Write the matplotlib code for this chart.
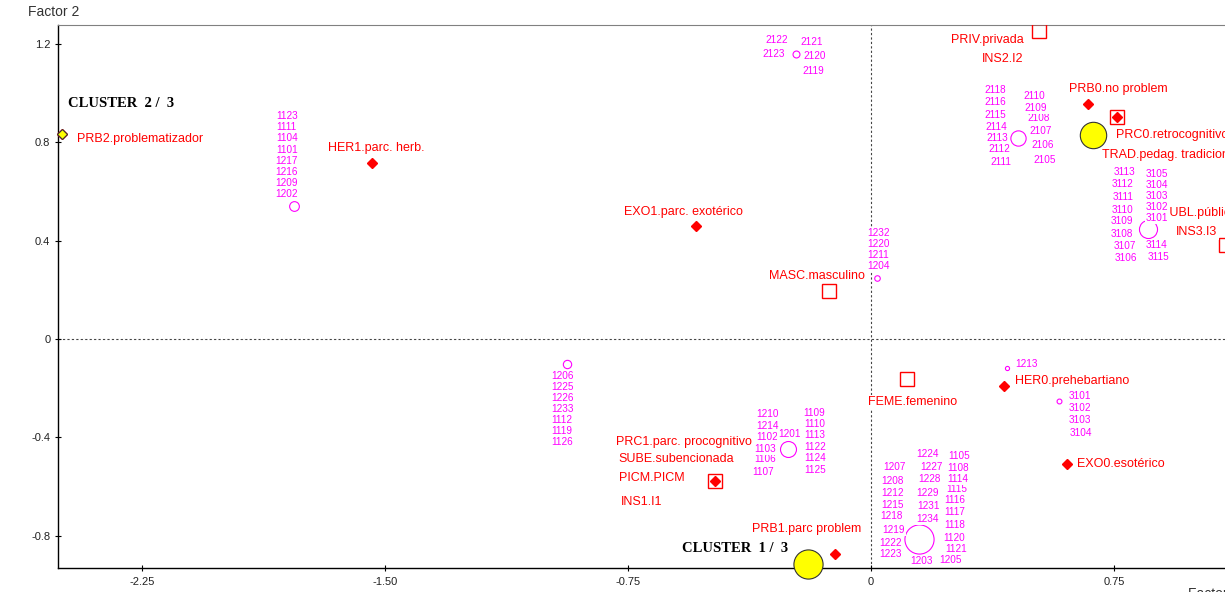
import matplotlib.pyplot as plt

plt.rcParams["font.family"] = ["Liberation Sans", "DejaVu Sans"]
plt.rcParams["axes.unicode_minus"] = False

RED = "#ff0000"
MAG = "#ff00ff"

# active modalities (red diamonds)
act_names = ["PRB2.problematizador", "HER1.parc. herb.", "EXO1.parc. exotérico",
             "HER0.prehebartiano", "EXO0.esotérico", "PRB1.parc problem",
             "PRB0.no problem", "PRC0.retrocognitivo", "PRC1.parc. procognitivo"]
act_x = [-2.497, -1.540, -0.540, 0.410, 0.605, -0.111, 0.670, 0.759, -0.481]
act_y = [0.834, 0.716, 0.460, -0.191, -0.509, -0.875, 0.956, 0.903, -0.578]

# illustrative modalities (open squares), one square can carry several names
sup_names = [["MASC.masculino"], ["FEME.femenino"],
             ["SUBE.subencionada", "PICM.PICM", "INS1.I1"],
             ["TRAD.pedag. tradicional"], ["PRIV.privada", "INS2.I2"],
             ["PUBL.pública", "INS3.I3"]]
sup_x = [-0.131, 0.111, -0.481, 0.759, 0.519, 1.096]
sup_y = [0.197, -0.163, -0.578, 0.903, 1.253, 0.382]

# cluster centres (yellow)
clu_names = ["CLUSTER  1 /  3", "CLUSTER  2 /  3", ""]
clu_x = [-0.194, -2.497, 0.685]
clu_y = [-0.915, 0.834, 0.830]

# individuals (magenta circles), grouped by position
ind_x = [-1.781, -0.231, 0.454, 0.855, 0.019, -0.938, -0.256, 0.420, 0.580, 0.148]
ind_y = [0.541, 1.159, 0.818, 0.448, 0.248, -0.102, -0.448, -0.118, -0.252, -0.814]
ind_labels = [
    ["1123", "1111", "1104", "1101", "1217", "1216", "1209", "1202"],
    ["2122", "2121", "2123", "2120", "2119"],
    ["2118", "2116", "2115", "2114", "2113", "2112", "2111",
     "2110", "2109", "2108", "2107", "2106", "2105"],
    ["3113", "3112", "3111", "3110", "3109", "3108", "3107", "3106",
     "3105", "3104", "3103", "3102", "3101", "3114", "3115"],
    ["1232", "1220", "1211", "1204"],
    ["1206", "1225", "1226", "1233", "1112", "1119", "1126"],
    ["1210", "1214", "1102", "1103", "1106", "1107", "1201",
     "1109", "1110", "1113", "1122", "1124", "1125"],
    ["1213"],
    ["3101", "3102", "3103", "3104"],
    ["1207", "1208", "1212", "1215", "1218", "1219", "1222", "1223",
     "1224", "1227", "1228", "1229", "1231", "1234", "1203",
     "1105", "1108", "1114", "1115", "1116", "1117", "1118", "1120", "1121", "1205"],
]

xticks = [-2.25, -1.50, -0.75, 0, 0.75]
xtick_labels = ["-2.25", "-1.50", "-0.75", "0", "0.75"]
yticks = [-0.8, -0.4, 0, 0.4, 0.8, 1.2]
ytick_labels = ["-0.8", "-0.4", "0", "0.4", "0.8", "1.2"]

# ---- layout (label offsets in pixels from their marker) ----
act_off = [(15, -5, "left"), (4, 15, "center"), (-13, 14, "center"), (11, 5, "left"),
           (10, 0, "left"), (-28, 25, "center"), (-19, 15, "left"), (-1, -18, "left"),
           (-99, 39, "left")]
sup_off = [[(36, 15, "right")], [(-39, -23, "left")],
           [(-97, 22, "left"), (-96, 3, "left"), (-94, -21, "left")],
           [(-15, -38, "left")], [(-15, -9, "right"), (-16, -28, "right")],
           [(-65, 32, "left"), (-50, 13, "left")]]
clu_off = [(-126, 15), (6, 31), (0, 0)]
clu_size = [21, 5, 19]
clu_marker = ["o", "D", "o"]
ind_size = [7, 5, 11, 13, 4, 6, 11.5, 3, 3.5, 21]
ind_off = [
    [(-7, 90), (-7, 79), (-7, 68), (-7, 56), (-7, 45), (-7, 34), (-7, 23), (-7, 12)],
    [(-19, 14), (16, 12), (-22, 0), (19, -2), (17, -17)],
    [(-23, 48), (-23, 36), (-23, 23), (-22, 11), (-21, 0), (-19, -11), (-17, -24),
     (16, 42), (18, 30), (21, 20), (23, 7), (25, -7), (27, -22)],
    [(-23, 57), (-25, 45), (-25, 32), (-25, 19), (-26, 8), (-26, -5), (-23, -17), (-22, -29),
     (9, 55), (9, 44), (9, 33), (9, 22), (9, 11), (9, -16), (11, -28)],
    [(1, 45), (1, 34), (1, 23), (1, 12)],
    [(-5, -12), (-5, -23), (-5, -34), (-5, -45), (-5, -56), (-5, -67), (-5, -78)],
    [(-21, 35), (-21, 23), (-21, 12), (-23, 0), (-23, -10), (-25, -23), (1, 15),
     (26, 36), (27, 25), (27, 14), (27, 2), (27, -9), (27, -21)],
    [(19, 4)],
    [(21, 5), (21, -7), (21, -19), (22, -32)],
    [(-24, 72), (-26, 58), (-26, 46), (-26, 34), (-27, 23), (-25, 9), (-28, -4), (-28, -15),
     (9, 85), (13, 72), (11, 60), (9, 46), (10, 33), (9, 20), (3, -22),
     (40, 83), (39, 71), (39, 60), (38, 50), (36, 39), (36, 27), (36, 14), (35, 1),
     (37, -10), (32, -21)],
]

fig = plt.figure(figsize=(12.25, 5.92), dpi=100)
ax = fig.add_axes([58 / 1225, 24 / 592, 1 - 58 / 1225, 543 / 592])
ax.set_xlim(-2.509, 1.0926)
ax.set_ylim(-0.9316, 1.2775)

ax.axhline(0, color="#444444", lw=0.8, ls=(0, (2, 2)), zorder=1)
ax.axvline(0, color="#444444", lw=0.8, ls=(0, (2, 2)), zorder=1)

white = dict(boxstyle="square,pad=0.12", fc="white", ec="none")

# individuals
for gx, gy, size, labels, offs in zip(ind_x, ind_y, ind_size, ind_labels, ind_off):
    ax.plot(gx, gy, "o", mfc="none", mec=MAG, mew=0.8, ms=size, zorder=3)
    # drawn bottom-up so upper labels overlap lower ones
    for lab, (dx, dy) in sorted(zip(labels, offs), key=lambda t: t[1][1]):
        ax.annotate(lab, (gx, gy), xytext=(dx, dy), textcoords="offset pixels",
                    ha="center", va="center", fontsize=7.2, color=MAG,
                    bbox=white, zorder=4.5, annotation_clip=False)

# illustrative squares
ax.plot(sup_x, sup_y, "s", mfc="none", mec=RED, mew=1, ms=10, zorder=3)
for sx, sy, names, offs in zip(sup_x, sup_y, sup_names, sup_off):
    for name, (dx, dy, ha) in zip(names, offs):
        ax.annotate(name, (sx, sy), xytext=(dx, dy), textcoords="offset pixels",
                    ha=ha, va="center", fontsize=9, color=RED,
                    bbox=white, zorder=4, annotation_clip=False)

# active diamonds
ax.plot(act_x, act_y, "D", color=RED, ms=5, zorder=3.5, clip_on=False)
for name, ax_, ay, (dx, dy, ha) in zip(act_names, act_x, act_y, act_off):
    ax.annotate(name, (ax_, ay), xytext=(dx, dy), textcoords="offset pixels",
                ha=ha, va="center", fontsize=9, color=RED,
                bbox=white, zorder=4, annotation_clip=False)

# clusters
for name, cx, cy, size, mk, (dx, dy) in zip(clu_names, clu_x, clu_y, clu_size,
                                            clu_marker, clu_off):
    ax.plot(cx, cy, mk, mfc="#ffff00", mec="#333333", mew=0.8, ms=size,
            zorder=5, clip_on=False)
    if name:
        ax.annotate(name, (cx, cy), xytext=(dx, dy), textcoords="offset pixels",
                    ha="left", va="center", fontsize=10.5, fontweight="bold",
                    family="Liberation Serif", color="black",
                    zorder=4, annotation_clip=False)

ax.set_xticks(xticks, xtick_labels)
ax.set_yticks(yticks, ytick_labels)
ax.tick_params(direction="inout", length=5, width=0.8, labelsize=8,
               labelcolor="#222222")
ax.tick_params(axis="x", pad=4)
ax.tick_params(axis="y", pad=3)
ax.spines["right"].set_visible(False)
ax.spines["top"].set_color("#808080")
ax.spines["left"].set_linewidth(1)
ax.spines["bottom"].set_linewidth(1)

fig.text(28 / 1225, 1 - 16 / 592, "Factor 2", fontsize=10, color="#333333",
         va="baseline", ha="left")
fig.text(1188 / 1225, -6 / 592, "Factor 1", fontsize=10, color="#333333",
         va="baseline", ha="left")

fig.savefig("out.png", dpi=100)
